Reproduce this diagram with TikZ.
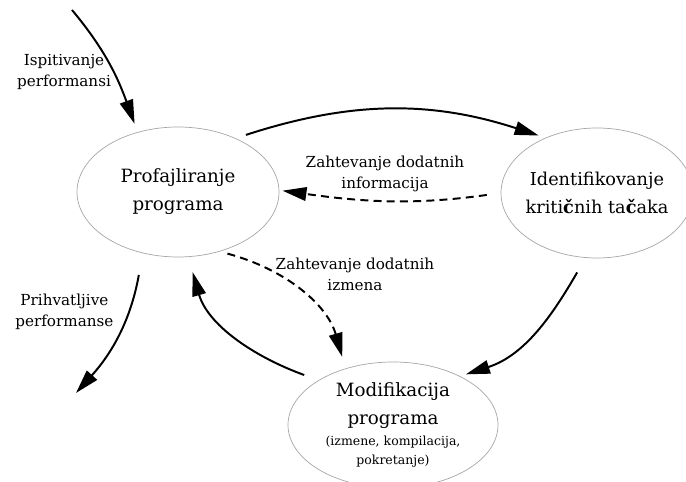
\documentclass[tikz,border=0pt]{standalone}
\usepackage{fontspec}
\setmainfont{DejaVu Serif}
\usetikzlibrary{positioning, arrows.meta, shapes.geometric}

\begin{document}
\begin{tikzpicture}[
	phase/.style={
		ellipse,
		draw=gray!70,
		line width=0.5pt,
		inner sep=-1cm,
		align=center,
		font=\fontsize{13}{20}\selectfont
	},
	label/.style={
		align=center,
		font=\fontsize{10.8}{15}\selectfont
	},
	flow/.style={
		line width=1.4pt,
		-{Triangle[length=6mm, width=3.4mm]}
	},
	ask/.style={
		flow,
		dash pattern=on 2mm off 1.3mm
	}
	]
	\useasboundingbox (0,0) rectangle (17.15,12.05);
	\clip (0,0) rectangle (17.15,12.05);

	\node[phase, minimum width=5.05cm, minimum height=3.25cm] (prof) at (4.45,7.25) {Profajliranje\\programa};
	\node[phase, minimum width=4.8cm, minimum height=3.25cm, font=\fontsize{12.6}{20}\selectfont] (ident) at (14.925,7.225) {Identifikovanje\\kriti\textbf{č}nih ta\textbf{č}aka};
	\node[phase, minimum width=5.25cm, minimum height=3.15cm] (modif) at (9.825,1.425) {Modifikacija\\programa\\[-5pt]{\fontsize{8.9}{14}\selectfont (izmene, kompilacija,}\\[-6pt]{\fontsize{8.9}{14}\selectfont pokretanje)}};

	\coordinate (start) at (1.8,11.8);
	\coordinate (finish) at (1.9,2.225);

	\node[label] (lin) at (1.6,10.25) {Ispitivanje\\performansi};
	\node[label] (linfo) at (9.625,7.71) {Zahtevanje dodatnih\\informacija};
	\node[label] (lchange) at (8.875,5.19) {Zahtevanje dodatnih\\izmena};
	\node[label] (lout) at (1.61,4.25) {Prihvatljive\\performanse};

	% main cycle
	\draw[flow, shorten >=2.2mm] (start) to[out=-50, in=110] (prof.124);
	\draw[flow, shorten <=2.7mm, shorten >=1.8mm] (prof.43) to[out=18, in=162] (ident.133.5);
	\draw[flow, shorten <=4.2mm, shorten >=1.5mm] (ident.260) to[out=240, in=18] (modif.36);
	\draw[flow, shorten <=3.8mm, shorten >=3.9mm] (modif.149) to[out=160, in=-74] (prof.-81.5);
	\draw[flow, shorten <=5.5mm] (prof.-120.4) to[out=-100, in=48] (finish);

	% feedback
	\draw[ask, shorten <=3.5mm, shorten >=0.8mm] (ident.180) to[out=188, in=-8] (prof.1);
	\draw[ask, shorten <=2mm, shorten >=3mm] (prof.-55.7) to[out=-15, in=106] (modif.130);
\end{tikzpicture}
\end{document}
